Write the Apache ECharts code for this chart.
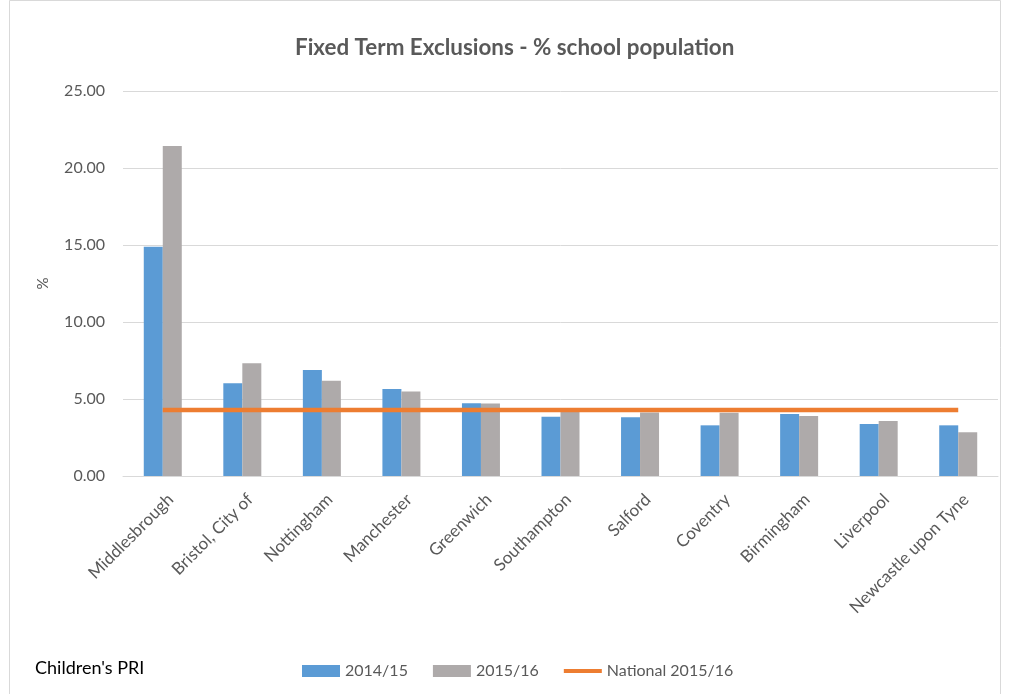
<!DOCTYPE html>
<html>
<head>
<meta charset="utf-8">
<script src="https://cdn.jsdelivr.net/npm/echarts@6/dist/echarts.min.js"></script>
<style>
  html, body { margin: 0; padding: 0; background: #fff; }
  #chart { width: 1010px; height: 694px; }
</style>
</head>
<body>
<div id="chart"></div>
<script>
// Local authorities, in the order shown
const categories = [
  'Middlesbrough', 'Bristol, City of', 'Nottingham', 'Manchester', 'Greenwich',
  'Southampton', 'Salford', 'Coventry', 'Birmingham', 'Liverpool', 'Newcastle upon Tyne'
];

// Fixed term exclusions as % of school population
const rate2014 = [14.89, 6.02, 6.88, 5.65, 4.72, 3.85, 3.81, 3.29, 4.03, 3.38, 3.29];
const rate2015 = [21.43, 7.32, 6.19, 5.48, 4.70, 4.18, 4.13, 4.11, 3.90, 3.57, 2.84];

// National average for 2015/16
const nationalValue = 4.29;
const national2015 = categories.map(() => nationalValue);

const yTicks = { min: 0, max: 25, interval: 5 };

const FONT = 'Lato, "Open Sans", "DejaVu Sans", sans-serif';
const TEXT_GREY = '#595959';

const chart = echarts.init(document.getElementById('chart'), null, { renderer: 'canvas' });

chart.setOption({
  backgroundColor: '#ffffff',
  animation: false,
  textStyle: { fontFamily: FONT },
  title: {
    text: 'Fixed Term Exclusions - % school population',
    left: 290,
    top: 32,
    textStyle: { fontFamily: FONT, fontSize: 22.4, fontWeight: 'bold', color: TEXT_GREY }
  },
  graphic: [
    {
      type: 'rect',
      shape: { x: 9.5, y: 0.5, width: 991, height: 700 },
      style: { fill: 'none', stroke: '#d9d9d9', lineWidth: 1 },
      silent: true
    },
    {
      type: 'text',
      left: 35,
      top: 659,
      style: { text: "Children's PRI", fill: '#000', font: '18px ' + FONT }
    }
  ],
  legend: {
    left: 302,
    top: 663,
    padding: 0,
    itemWidth: 38,
    itemHeight: 12,
    itemGap: 25,
    symbolKeepAspect: true,
    textStyle: { fontFamily: FONT, fontSize: 16, color: TEXT_GREY },
    data: [
      { name: '2014/15', icon: 'rect' },
      { name: '2015/16', icon: 'rect' },
      { name: 'National 2015/16', icon: 'path://M0,0H40V4H0Z' }
    ]
  },
  grid: { left: 123, right: 12, top: 91, bottom: 218, containLabel: false },
  xAxis: {
    type: 'category',
    data: categories,
    axisLine: { lineStyle: { color: '#d9d9d9', width: 1 } },
    axisTick: { show: false },
    axisLabel: {
      rotate: 45,
      margin: 13,
      interval: 0,
      lineHeight: 22,
      // leading blank line nudges each slanted label below its category
      formatter: v => '\n' + v,
      fontFamily: FONT,
      fontSize: 17,
      color: TEXT_GREY
    }
  },
  yAxis: {
    type: 'value',
    min: yTicks.min,
    max: yTicks.max,
    interval: yTicks.interval,
    name: '%',
    nameLocation: 'middle',
    nameGap: 72,
    nameRotate: 90,
    nameTextStyle: { fontFamily: FONT, fontSize: 15, color: TEXT_GREY },
    axisLine: { show: false },
    axisTick: { show: false },
    axisLabel: {
      margin: 18,
      fontFamily: FONT,
      fontSize: 16,
      color: TEXT_GREY,
      formatter: v => v.toFixed(2)
    },
    splitLine: { lineStyle: { color: '#d9d9d9', width: 1 } }
  },
  series: [
    {
      name: '2014/15',
      type: 'bar',
      data: rate2014,
      barWidth: 19,
      barGap: '0%',
      itemStyle: { color: '#5b9bd5' }
    },
    {
      name: '2015/16',
      type: 'bar',
      data: rate2015,
      barWidth: 19,
      barGap: '0%',
      itemStyle: { color: '#aeaaaa' }
    },
    {
      name: 'National 2015/16',
      type: 'line',
      data: national2015,
      symbol: 'none',
      lineStyle: { color: '#ed7d31', width: 4.5 },
      itemStyle: { color: '#ed7d31' },
      z: 5
    }
  ]
});
</script>
</body>
</html>
